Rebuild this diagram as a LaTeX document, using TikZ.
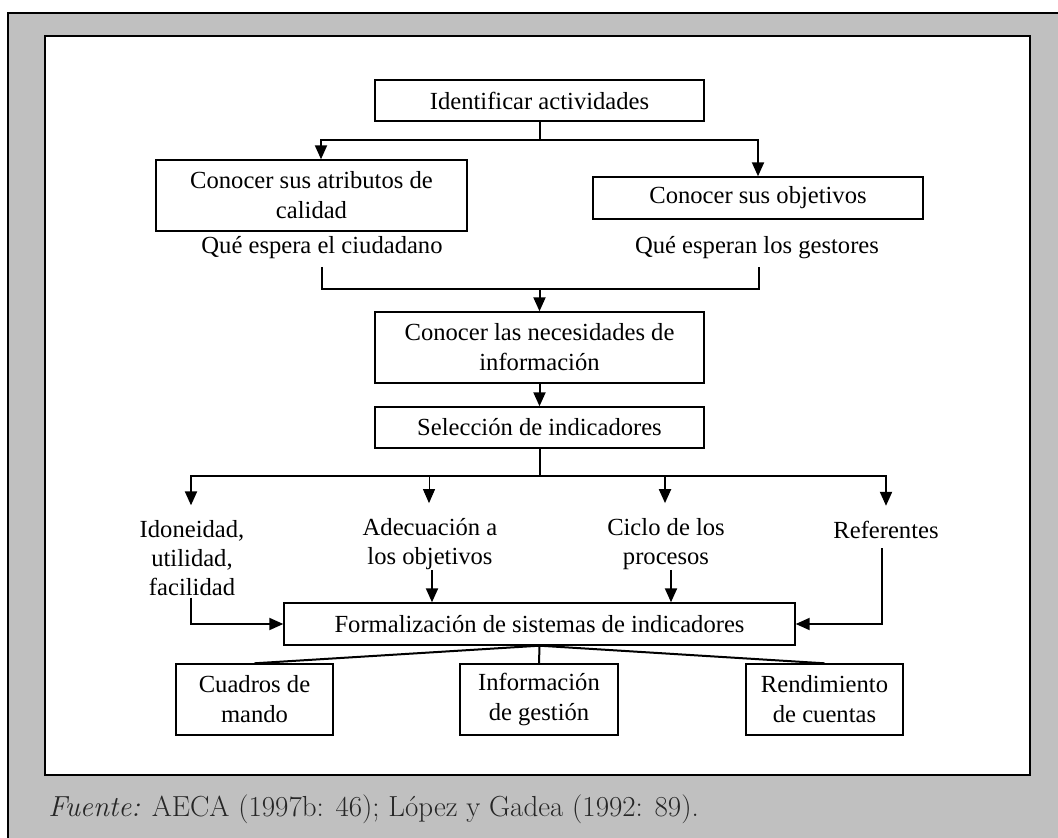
\documentclass[tikz,border=0pt]{standalone}
\usepackage{fontspec}
\setmainfont{Liberation Serif}
\newfontfamily\fuentefont{Latin Modern Roman}
\usetikzlibrary{arrows.meta}

\definecolor{marco}{RGB}{192,192,192}

\tikzset{
	caja/.style={draw, line width=0.7pt, inner sep=0pt, align=center, font=\fontsize{12.3}{15}\selectfont},
	etiqueta/.style={inner sep=0pt, align=center, font=\fontsize{12.3}{14.3}\selectfont},
	linea/.style={line width=1pt},
	flecha/.style={line width=1pt, -{Triangle[length=7pt,width=6pt]}},
}

\begin{document}
\begin{tikzpicture}[x=0.5pt,y=-0.5pt]
	\useasboundingbox (0,0) rectangle (1058,838);
	\fill[marco] (8,13) rectangle (1058,838);
	\draw[line width=0.7pt] (8,838) -- (8,13) -- (1058,13);
	\fill[white] (45,36) rectangle (1030,775);
	\draw[line width=1.4pt] (45,36) rectangle (1030,775);

	\node[caja, minimum width=164.5pt, minimum height=20.5pt] (act) at (539.5,100.5) {Identificar actividades};
	\node[caja, minimum width=155.5pt, minimum height=35.5pt] (atr) at (311.5,195.5) {Conocer sus atributos de\\calidad};
	\node[caja, minimum width=165pt, minimum height=21pt] (obj) at (758,198) {Conocer sus objetivos};
	\node[etiqueta] (ciu) at (322,248) {Qué espera el ciudadano};
	\node[etiqueta] (ges) at (757,248) {Qué esperan los gestores};

	\node[caja, minimum width=164.5pt, minimum height=35.5pt] (nec) at (539.5,347.5) {Conocer las necesidades de\\información};
	\node[caja, minimum width=164.5pt, minimum height=20.5pt] (sel) at (539.5,427.5) {Selección de indicadores};

	\node[etiqueta] (ido) at (192,558) {Idoneidad,\\utilidad,\\facilidad};
	\node[etiqueta] (ade) at (430,544) {Adecuación a\\los objetivos};
	\node[etiqueta] (cic) at (666,544) {Ciclo de los\\procesos};
	\node[etiqueta] (ref) at (886,530) {Referentes};

	\node[caja, minimum width=255.5pt, minimum height=21pt] (for) at (539.5,624) {Formalización de sistemas de indicadores};
	\node[caja, minimum width=78.5pt, minimum height=35.5pt] (cua) at (254.5,699.5) {Cuadros de\\mando};
	\node[caja, minimum width=79pt, minimum height=35.5pt] (inf) at (539,699.5) {Información\\de gestión};
	\node[caja, minimum width=78.5pt, minimum height=35.5pt] (ren) at (824.5,699.5) {Rendimiento\\de cuentas};

	% actividades -> atributos / objetivos
	\coordinate (r1) at (539.5,140);
	\draw[linea] (act) -- (r1);
	\draw[flecha] (r1) -| ([xshift=4.75pt]atr.north);
	\draw[flecha] (r1) -| (obj.north);

	% llave bajo las dos expectativas
	\coordinate (b1) at (322,267);
	\coordinate (b2) at (759,267);
	\coordinate (r2) at (539.5,289);
	\draw[linea] (b1) -- (b1 |- r2) -- (b2 |- r2) -- (b2);
	\draw[flecha] (r2) -- (nec);
	\draw[flecha] (nec) -- (sel);

	% reparto hacia los criterios
	\coordinate (r3) at (539.5,476);
	\draw[linea] (sel) -- (r3);
	\draw[flecha, shorten >=7.5pt] (r3) -| ([xshift=-0.5pt]ido.north);
	\draw[flecha, line width=0.5pt, shorten >=7.5pt] (r3) -| ([xshift=-0.5pt]ade.north);
	\draw[flecha, shorten >=7.5pt] (r3) -| ([xshift=-0.5pt]cic.north);
	\draw[flecha, shorten >=7.5pt] (r3) -| (ref.north);

	\draw[flecha] ([xshift=1pt]ade.south) -- ([xshift=1pt]ade.south |- for.north);
	\draw[flecha] ([xshift=2.5pt]cic.south) -- ([xshift=2.5pt]cic.south |- for.north);
	\draw[flecha, shorten <=1pt] ([xshift=-0.5pt]ido.south) |- (for.west);
	\draw[flecha, shorten <=4.5pt] ([xshift=-2pt]ref.south) |- (for.east);

	\draw[linea] (for.south) -- (cua.north);
	\draw[linea] (for.south) -- (inf.north);
	\draw[linea] (for.south) -- (ren.north);

	\node[anchor=base west, inner sep=0pt, text=black!85, font=\fuentefont\fontsize{14.5}{16}\selectfont] (fuente) at (48,816) {\textit{Fuente:} AECA (1997b: 46); López y Gadea (1992: 89).};
\end{tikzpicture}
\end{document}
